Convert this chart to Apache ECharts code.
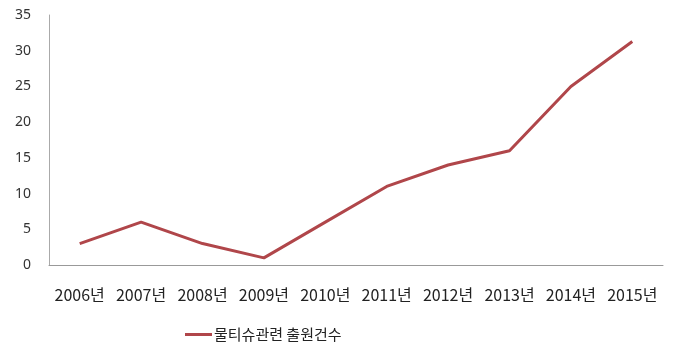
<!DOCTYPE html>
<html><head><meta charset="utf-8">
<script src="https://cdn.jsdelivr.net/npm/echarts@6/dist/echarts.min.js"></script>
<style>html,body{margin:0;padding:0;background:#fff}#c{width:680px;height:349px}</style>
</head><body><div id="c"></div>
<script>
const categories = ['2006년','2007년','2008년','2009년','2010년','2011년','2012년','2013년','2014년','2015년'];
const values = [3, 6, 3, 1, 6, 11, 14, 16, 25, 31.3];
const seriesName = '물티슈관련 출원건수';
const chart = echarts.init(document.getElementById('c'));
chart.setOption({
  animation: false,
  textStyle: {fontFamily: 'Noto Sans CJK KR, sans-serif'},
  grid: {left: 49, right: 17, top: 15, bottom: 84},
  legend: {
    left: 180, top: 322, itemWidth: 27, itemHeight: 3, itemGap: 4,
    icon: 'rect',
    textStyle: {fontSize: 15, color: '#222', fontFamily: 'Noto Sans CJK KR', padding: [0, 0, 0, -3]},
    data: [seriesName]
  },
  xAxis: {
    type: 'category', data: categories, boundaryGap: true,
    axisLine: {lineStyle: {color: '#999', width: 1}},
    axisTick: {show: false},
    axisLabel: {color: '#222', fontSize: 16, margin: 22, interval: 0, fontFamily: 'Noto Sans CJK KR'}
  },
  yAxis: {
    type: 'value', min: 0, max: 35, interval: 5,
    axisLine: {show: true, lineStyle: {color: '#aaa', width: 1}},
    axisTick: {show: false},
    splitLine: {show: false},
    axisLabel: {color: '#333', fontSize: 14, margin: 18, fontFamily: 'Noto Sans, sans-serif'}
  },
  series: [{
    name: seriesName, type: 'line', data: values,
    symbol: 'none', lineStyle: {color: '#b0464a', width: 3}, itemStyle: {color: '#b0464a'}
  }]
});
</script></body></html>
